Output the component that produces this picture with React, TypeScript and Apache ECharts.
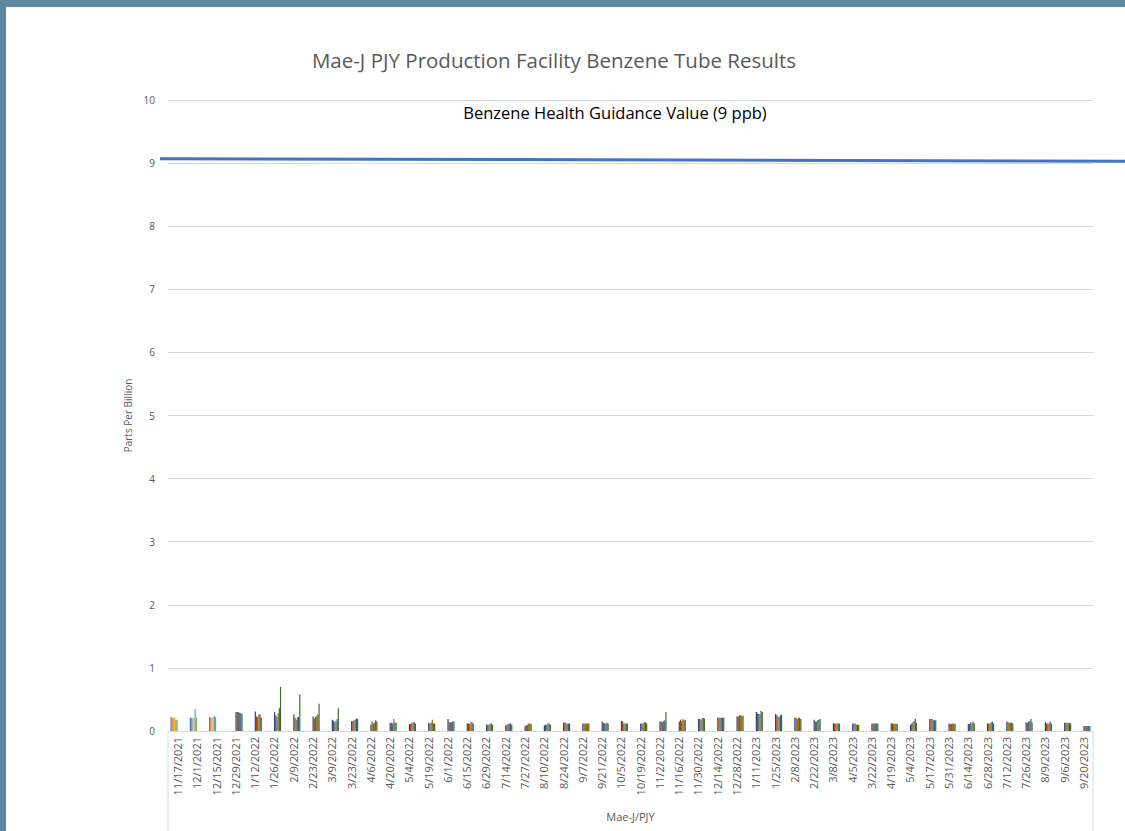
import React, { useEffect, useRef } from "react";
import * as echarts from "echarts";

const categories = [
  "11/17/2021", "12/1/2021", "12/15/2021", "12/29/2021", "1/12/2022", "1/26/2022", "2/9/2022", "2/23/2022",
  "3/9/2022", "3/23/2022", "4/6/2022", "4/20/2022", "5/4/2022", "5/19/2022", "6/1/2022", "6/15/2022",
  "6/29/2022", "7/14/2022", "7/27/2022", "8/10/2022", "8/24/2022", "9/7/2022", "9/21/2022", "10/5/2022",
  "10/19/2022", "11/2/2022", "11/16/2022", "11/30/2022", "12/14/2022", "12/28/2022", "1/11/2023", "1/25/2023",
  "2/8/2023", "2/22/2023", "3/8/2023", "4/5/2023", "3/22/2023", "4/19/2023", "5/4/2023", "5/17/2023",
  "5/31/2023", "6/14/2023", "6/28/2023", "7/12/2023", "7/26/2023", "8/9/2023", "9/6/2023", "9/20/2023",
];

// First three sampling dates (series 1-6)
const early1 = [0.22, 0.21, 0.22];
const early2 = [0.21, 0.21, 0.21];
const early3 = [0.2, 0.21, 0.21];
const early4 = [0.22, 0.21, 0.22];
const early5 = [0.18, 0.35, 0.24];
const early6 = [0.18, 0.21, 0.22];

// Remaining sampling dates, 12/29/2021 onward (series 7-12)
const late1 = [0.30, 0.31, 0.30, 0.26, 0.23, 0.18, 0.16, 0.10, 0.13, 0.11, 0.13, 0.19, 0.12, 0.10, 0.09, 0.08, 0.09, 0.13, 0.12, 0.15, 0.16, 0.12, 0.15, 0.15, 0.19, 0.21, 0.23, 0.30, 0.27, 0.21, 0.18, 0.12, 0.12, 0.12, 0.12, 0.10, 0.19, 0.12, 0.11, 0.12, 0.15, 0.14, 0.14, 0.13, 0.08];
const late2 = [0.30, 0.23, 0.25, 0.21, 0.20, 0.16, 0.16, 0.15, 0.13, 0.11, 0.12, 0.14, 0.12, 0.10, 0.10, 0.09, 0.10, 0.14, 0.12, 0.13, 0.15, 0.12, 0.15, 0.18, 0.19, 0.21, 0.23, 0.28, 0.25, 0.21, 0.15, 0.12, 0.12, 0.12, 0.12, 0.12, 0.19, 0.11, 0.11, 0.12, 0.14, 0.13, 0.12, 0.13, 0.08];
const late3 = [0.30, 0.22, 0.22, 0.18, 0.22, 0.14, 0.17, 0.12, 0.12, 0.13, 0.13, 0.14, 0.11, 0.10, 0.11, 0.10, 0.10, 0.12, 0.12, 0.12, 0.12, 0.12, 0.14, 0.16, 0.18, 0.21, 0.25, 0.27, 0.23, 0.19, 0.15, 0.12, 0.12, 0.12, 0.11, 0.14, 0.19, 0.11, 0.14, 0.12, 0.13, 0.15, 0.12, 0.13, 0.08];
const late4 = [0.29, 0.26, 0.28, 0.22, 0.24, 0.16, 0.18, 0.13, 0.19, 0.14, 0.18, 0.14, 0.14, 0.12, 0.12, 0.12, 0.12, 0.12, 0.12, 0.12, 0.12, 0.14, 0.16, 0.19, 0.20, 0.21, 0.25, 0.27, 0.22, 0.21, 0.17, 0.12, 0.10, 0.12, 0.12, 0.16, 0.17, 0.12, 0.12, 0.14, 0.13, 0.16, 0.12, 0.13, 0.08];
const late5 = [0.28, 0.26, 0.36, 0.22, 0.26, 0.19, 0.20, 0.17, 0.13, 0.14, 0.12, 0.15, 0.14, 0.12, 0.12, 0.12, 0.12, 0.12, 0.12, 0.13, 0.12, 0.14, 0.17, 0.17, 0.21, 0.21, 0.24, 0.32, 0.25, 0.21, 0.18, 0.12, 0.10, 0.12, 0.12, 0.19, 0.17, 0.12, 0.15, 0.15, 0.13, 0.19, 0.15, 0.13, 0.08];
const late6 = [0.27, 0.21, 0.70, 0.58, 0.43, 0.36, 0.19, 0.15, 0.13, 0.12, 0.12, 0.15, 0.12, 0.10, 0.10, 0.11, 0.10, 0.12, 0.12, 0.12, 0.12, 0.12, 0.30, 0.18, 0.20, 0.21, 0.24, 0.30, 0.26, 0.19, 0.19, 0.12, 0.10, 0.12, 0.11, 0.13, 0.17, 0.11, 0.12, 0.12, 0.12, 0.14, 0.12, 0.12, 0.08];

const yTicks = [0, 1, 2, 3, 4, 5, 6, 7, 8, 9, 10];
const guidanceStart = 9.07;
const guidanceEnd = 9.03;
const titleText = "Mae-J PJY Production Facility Benzene Tube Results";
const guidanceText = "Benzene Health Guidance Value (9 ppb)";

const colors = [
  "#4472C4", "#ED7D31", "#A5A5A5", "#FFC000", "#5B9BD5", "#70AD47",
  "#264478", "#9E480E", "#636363", "#997300", "#255E91", "#43682B",
];

const FONT = "'Open Sans', 'Noto Sans', sans-serif";

export default function App() {
  const ref = useRef<HTMLDivElement>(null);

  useEffect(() => {
    if (!ref.current) return;
    const chart = echarts.init(ref.current, undefined, { renderer: "svg" });
    const earlyList = [early1, early2, early3, early4, early5, early6];
    const lateList = [late1, late2, late3, late4, late5, late6];
    const nEarly = early1.length;
    const series: any[] = [];
    earlyList.forEach((arr, i) => {
      series.push({
        type: "bar",
        name: "Series " + (i + 1),
        data: categories.map((_, k) => (k < nEarly ? arr[k] : null)),
        itemStyle: { color: colors[i] },
        barGap: "0%",
        barCategoryGap: "26%",
      });
    });
    lateList.forEach((arr, i) => {
      series.push({
        type: "bar",
        name: "Series " + (i + 7),
        data: categories.map((_, k) => (k >= nEarly ? arr[k - nEarly] : null)),
        itemStyle: { color: colors[i + 6] },
        barGap: "0%",
        barCategoryGap: "26%",
      });
    });

    const gridLeft = 162;
    const gridRight = 32;
    const gridTop = 93;
    const gridBottom = 100;
    const W = 1119;
    const H = 824;

    chart.setOption({
      animation: false,
      textStyle: { fontFamily: FONT },
      grid: { left: gridLeft, right: gridRight, top: gridTop, bottom: gridBottom, containLabel: false },
      xAxis: {
        type: "category",
        data: categories,
        name: "Mae-J/PJY",
        nameLocation: "middle",
        nameGap: 80,
        nameTextStyle: { color: "#595959", fontSize: 11, fontFamily: FONT },
        axisLine: { show: true, lineStyle: { color: "#d9d9d9", width: 1 } },
        axisTick: { show: false },
        axisLabel: { interval: 0, rotate: 90, color: "#595959", fontSize: 11, margin: 6, fontFamily: FONT },
      },
      yAxis: {
        type: "value",
        min: yTicks[0],
        max: yTicks[yTicks.length - 1],
        interval: 1,
        name: "Parts Per Billion",
        nameLocation: "middle",
        nameGap: 34,
        nameTextStyle: { color: "#595959", fontSize: 10, fontFamily: FONT },
        axisLine: { show: false },
        axisTick: { show: false },
        axisLabel: { color: "#595959", fontSize: 10, margin: 13, fontFamily: FONT },
        splitLine: { lineStyle: { color: "#d9d9d9", width: 1 } },
      },
      series,
    });

    const y1 = chart.convertToPixel({ yAxisIndex: 0 }, guidanceStart) as number;
    const y2 = chart.convertToPixel({ yAxisIndex: 0 }, guidanceEnd) as number;
    const yText = chart.convertToPixel({ yAxisIndex: 0 }, 9.8) as number;

    chart.setOption({
      graphic: [
        {
          type: "text",
          x: 548,
          y: 53,
          style: {
            text: titleText,
            fill: "#595959",
            fontSize: 20.5,
            fontFamily: FONT,
            textAlign: "center",
            textVerticalAlign: "middle",
          },
        },
        {
          type: "line",
          shape: { x1: 154, y1, x2: W, y2 },
          style: { stroke: "#4472C4", lineWidth: 3 },
          z: 10,
        },
        {
          type: "text",
          x: 609,
          y: yText,
          style: {
            text: guidanceText,
            fill: "#000000",
            fontSize: 16.5,
            fontFamily: FONT,
            textAlign: "center",
            textVerticalAlign: "middle",
          },
        },
        {
          type: "line",
          shape: { x1: gridLeft, y1: H - gridBottom, x2: gridLeft, y2: H },
          style: { stroke: "#d9d9d9", lineWidth: 1 },
        },
        {
          type: "line",
          shape: { x1: W - gridRight, y1: H - gridBottom, x2: W - gridRight, y2: H },
          style: { stroke: "#d9d9d9", lineWidth: 1 },
        },
      ],
    });

    return () => chart.dispose();
  }, []);

  return (
    <div style={{ position: "fixed", left: 0, top: 0, width: 1125, height: 831, background: "#5D86A1" }}>
      <div
        ref={ref}
        style={{ position: "absolute", left: 6, top: 7, width: 1119, height: 824, background: "#ffffff" }}
      />
    </div>
  );
}
